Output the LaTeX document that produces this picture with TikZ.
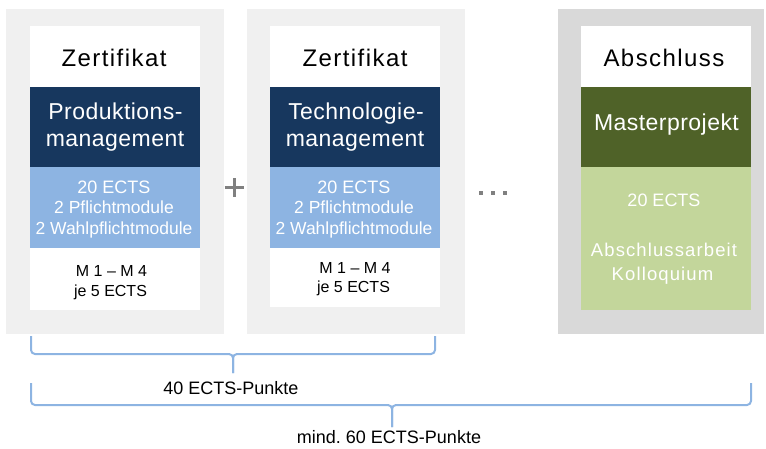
\documentclass[tikz,border=0pt]{standalone}
\usepackage{fontspec}
\setmainfont{Liberation Sans}
\newfontfamily\trackA[LetterSpace=6]{Liberation Sans}
\newfontfamily\trackB[LetterSpace=2]{Liberation Sans}
\newfontfamily\trackC[LetterSpace=6]{Liberation Sans}
\definecolor{panelA}{HTML}{F0F0F0}
\definecolor{panelB}{HTML}{D9D9D9}
\definecolor{darkblue}{HTML}{17375E}
\definecolor{lightblue}{HTML}{8DB4E2}
\definecolor{darkgreen}{HTML}{4F6228}
\definecolor{lightgreen}{HTML}{C3D69B}
\definecolor{bracecol}{HTML}{8DB4E2}
\definecolor{signgray}{HTML}{808080}
\frenchspacing
\begin{document}
\begin{tikzpicture}[x=1pt,y=-1pt,
  blk/.style={inner sep=0pt,outer sep=0pt,draw=none},
  txt/.style={inner sep=0pt,outer sep=0pt,anchor=base},
  titletxt/.style={txt,font=\trackA\fontsize{24}{28}\selectfont,text=black},
  headtxt/.style={txt,font=\trackB\fontsize{23}{28}\selectfont,text=white},
  ectstxt/.style={txt,font=\fontsize{18}{21}\selectfont,text=white},
  subtxt/.style={txt,font=\fontsize{17.5}{21}\selectfont,text=white},
  modtxt/.style={txt,font=\fontsize{16}{20}\selectfont,text=black},
  greentxt/.style={txt,font=\trackC\fontsize{18.5}{21}\selectfont,text=white},
  labeltxt/.style={txt,font=\fontsize{18}{21}\selectfont,text=black},
  brace/.style={draw=bracecol,line width=2pt,rounded corners=4pt},
  signline/.style={draw=signgray,line width=3pt}]
\useasboundingbox (0,0) rectangle (766,448);
% panels
\node[blk,fill=panelA,minimum width=218,minimum height=325] (p1) at (115,171.5) {};
\node[blk,fill=panelA,minimum width=218,minimum height=325] (p2) at (356,171.5) {};
\node[blk,fill=panelB,minimum width=206,minimum height=325] (p3) at (661,171.5) {};
% card 1
\node[blk,fill=white,minimum width=170,minimum height=61] (c1t) at (115,56.5) {};
\node[blk,fill=darkblue,minimum width=170,minimum height=80] (c1d) at (115,127) {};
\node[blk,fill=lightblue,minimum width=170,minimum height=81] (c1l) at (115,207.5) {};
\node[blk,fill=white,minimum width=170,minimum height=62] (c1b) at (115,279) {};
% card 2
\node[blk,fill=white,minimum width=170,minimum height=61] (c2t) at (355,56.5) {};
\node[blk,fill=darkblue,minimum width=170,minimum height=80] (c2d) at (355,127) {};
\node[blk,fill=lightblue,minimum width=170,minimum height=81] (c2l) at (355,207.5) {};
\node[blk,fill=white,minimum width=170,minimum height=59] (c2b) at (355,277.5) {};
% card 3
\node[blk,fill=white,minimum width=170,minimum height=61] (c3t) at (666,56.5) {};
\node[blk,fill=darkgreen,minimum width=170,minimum height=80] (c3d) at (666,127) {};
\node[blk,fill=lightgreen,minimum width=170,minimum height=143] (c3l) at (666,238.5) {};
% texts card 1
\node[titletxt] (z1) at (114,66) {Zertifikat};
\node[headtxt] (h1a) at (115.5,119) {Produktions-};
\node[headtxt] (h1b) at (115,146.5) {management};
\node[ectstxt] (e1) at (114,193.3) {20 ECTS};
\node[subtxt] (s1a) at (114,213.3) {2 Pflichtmodule};
\node[subtxt] (s1b) at (114,234.3) {2 Wahlpflichtmodule};
\node[modtxt] (m1a) at (111.5,276) {M 1 – M 4};
\node[modtxt] (m1b) at (110.5,296) {je 5 ECTS};
% texts card 2
\node[titletxt] (z2) at (355,66) {Zertifikat};
\node[headtxt] (h2a) at (356,119) {Technologie-};
\node[headtxt] (h2b) at (355,146.5) {management};
\node[ectstxt] (e2) at (354,193.3) {20 ECTS};
\node[subtxt] (s2a) at (354,213.3) {2 Pflichtmodule};
\node[subtxt] (s2b) at (354,234.3) {2 Wahlpflichtmodule};
\node[modtxt] (m2a) at (355,273) {M 1 – M 4};
\node[modtxt] (m2b) at (353.5,292) {je 5 ECTS};
% texts card 3
\node[titletxt] (z3) at (664,66) {Abschluss};
\node[headtxt] (h3) at (666.5,130) {Masterprojekt};
\node[ectstxt] (e3) at (664,206) {20 ECTS};
\node[greentxt] (g3a) at (664,256.5) {Abschlussarbeit};
\node[greentxt] (g3b) at (662.5,280) {Kolloquium};
% plus sign
\coordinate (plus) at (234,187);
\draw[signline] ([xshift=-9.5pt]plus) -- ([xshift=9.5pt]plus);
\draw[signline] ([yshift=-9.5pt]plus) -- ([yshift=9.5pt]plus);
% ellipsis dots
\node[blk,fill=signgray,minimum size=4.5] (d1) at (481,193) {};
\node[blk,fill=signgray,minimum size=4.5] (d2) at (493,193) {};
\node[blk,fill=signgray,minimum size=4.5] (d3) at (505,193) {};
% brace 1
\coordinate (b1l) at (31,336);
\coordinate (b1r) at (435,336);
\coordinate (b1m) at (233,354);
\coordinate (b1t) at (233,373);
\draw[brace] (b1l) |- (b1m) -- (b1t);
\draw[brace] (b1r) |- (b1m) -- (b1t);
\node[labeltxt] (l1) at (231,394) {40 ECTS-Punkte};
% brace 2
\coordinate (b2l) at (31,383);
\coordinate (b2r) at (751,383);
\coordinate (b2m) at (392,405);
\coordinate (b2t) at (392,427);
\draw[brace] (b2l) |- (b2m) -- (b2t);
\draw[brace] (b2r) |- (b2m) -- (b2t);
\node[labeltxt] (l2) at (389,443) {mind. 60 ECTS-Punkte};
\end{tikzpicture}
\end{document}
